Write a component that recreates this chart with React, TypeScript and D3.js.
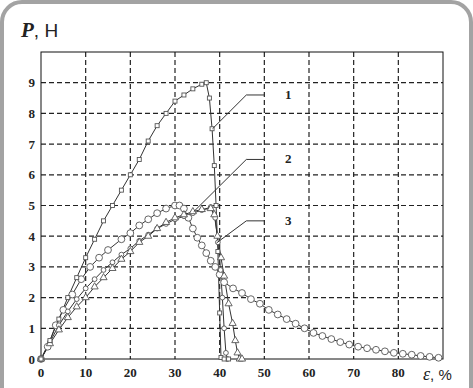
import React from 'react';
import * as d3 from 'd3';

// strain, %
const eps1 = [0, 2, 4, 6, 8, 10, 12, 14, 16, 18, 20, 22, 24, 26, 28, 30, 32, 34, 36, 37, 37.7, 38.3, 38.8, 39.2, 39.6, 40, 40.3, 41, 42];
// force, N
const force1 = [0, 0.6, 1.3, 2, 2.65, 3.3, 3.9, 4.5, 5.0, 5.5, 6.0, 6.5, 7.1, 7.6, 8.0, 8.4, 8.6, 8.8, 8.95, 9.0, 8.5, 7.5, 6.3, 5.0, 3.5, 1.5, 0.05, 0, 0];

const eps2 = [0, 2, 4, 6, 8, 10, 12, 14, 16, 18, 20, 22, 24, 26, 28, 30, 32, 34, 36, 38, 38.8, 39.5, 40.3, 41, 42, 42.9, 43.5, 44, 44.5, 45];
const force2 = [0, 0.5, 0.95, 1.35, 1.7, 2.0, 2.35, 2.65, 2.95, 3.25, 3.5, 3.8, 4.0, 4.25, 4.45, 4.6, 4.7, 4.8, 4.87, 4.9, 4.7, 4.0, 3.3, 2.7, 1.8, 1.16, 0.6, 0.2, 0, 0];

const eps3 = [0, 1.5, 3.3, 5, 7, 9, 11, 13, 15, 18, 20, 22, 24, 26, 28, 30, 31, 32, 33, 34, 35, 36, 37, 38, 39, 40, 41, 43, 45, 47, 49, 51, 53, 55, 57, 59, 61, 63, 65, 67, 69, 71, 73, 75, 77, 79, 81, 83, 85, 87, 89];
const force3 = [0, 0.4, 1.1, 1.6, 2.1, 2.6, 3.0, 3.3, 3.55, 3.9, 4.1, 4.35, 4.55, 4.75, 4.9, 5.0, 5.0, 4.9, 4.6, 4.25, 3.95, 3.7, 3.45, 3.2, 3.0, 2.75, 2.5, 2.3, 2.15, 1.95, 1.8, 1.6, 1.45, 1.3, 1.15, 1.0, 0.85, 0.75, 0.65, 0.55, 0.47, 0.4, 0.35, 0.3, 0.25, 0.2, 0.17, 0.14, 0.1, 0.07, 0.04];

const eps4 = [0, 2, 4, 6, 8, 10, 12, 14, 16, 18, 20, 22, 24, 26, 28, 30, 32, 34, 36, 38, 39, 39.6, 40.2, 40.6, 41, 41.4, 41.7];
const force4 = [0, 0.55, 1.1, 1.55, 1.95, 2.3, 2.6, 2.9, 3.15, 3.4, 3.6, 3.85, 4.05, 4.25, 4.4, 4.55, 4.65, 4.75, 4.85, 4.95, 4.6, 3.8, 2.9, 2.0, 1.0, 0.2, 0];

const xTicks = [0, 10, 20, 30, 40, 50, 60, 70, 80];
const yTicks = [0, 1, 2, 3, 4, 5, 6, 7, 8, 9];

// leader labels: [label, eps at line end, force at line end, force at label]
const labels = [
  { text: '1', eps: 38.4, p: 7.5, at: 8.6 },
  { text: '2', eps: 34.2, p: 4.8, at: 6.5 },
  { text: '3', eps: 39.3, p: 3.78, at: 4.5 },
];

const W = 473;
const H = 388;
const margin = { left: 41, right: 30, top: 52, bottom: 29 };

const App = () => {
  const x = d3.scaleLinear().domain([0, 90]).range([margin.left, W - margin.right]);
  const y = d3.scaleLinear().domain([0, 10]).range([H - margin.bottom, margin.top]);

  const line = d3.line<[number, number]>()
    .x(d => x(d[0]))
    .y(d => y(d[1]));

  const zip = (a: number[], b: number[]) => a.map((v, i) => [v, b[i]] as [number, number]);
  const s1 = zip(eps1, force1);
  const s2 = zip(eps2, force2);
  const s3 = zip(eps3, force3);
  const s4 = zip(eps4, force4);

  const lineColor = '#333';
  const mk = '#555';
  const tri = d3.symbol().type(d3.symbolTriangle).size(22)();

  return (
    <svg width={W} height={H} style={{ position: 'absolute', left: 0, top: 0, display: 'block' }}>
      <rect x={2} y={2} width={W - 4} height={H + 30} rx={20} fill='#fff' stroke='#a3a3a3' strokeWidth={4} />

      {/* grid */}
      {xTicks.filter(t => t > 0).map(t => (
        <line key={'gx' + t} x1={x(t)} x2={x(t)} y1={y(10)} y2={y(0)} stroke='#222' strokeWidth={1.2} strokeDasharray='5,3' />
      ))}
      {yTicks.filter(t => t > 0).map(t => (
        <line key={'gy' + t} x1={x(0)} x2={x(90)} y1={y(t)} y2={y(t)} stroke='#222' strokeWidth={1.2} strokeDasharray='5,3' />
      ))}
      <rect x={x(0)} y={y(10)} width={x(90) - x(0)} height={y(0) - y(10)} fill='none' stroke='#111' strokeWidth={1} />

      {/* ticks */}
      {yTicks.map(t => (
        <text key={'ty' + t} x={35} y={y(t)} dy='0.35em' textAnchor='end' fontFamily='Liberation Serif, serif' fontSize={13} fontWeight='bold' fill='#222'>{t}</text>
      ))}
      {xTicks.map(t => (
        <text key={'tx' + t} x={x(t)} y={377} textAnchor='middle' fontFamily='Liberation Serif, serif' fontSize={13} fontWeight='bold' fill='#222'>{t}</text>
      ))}

      {/* curves */}
      <path d={line(s3) || ''} fill='none' stroke={lineColor} strokeWidth={1} />
      <path d={line(s2) || ''} fill='none' stroke={lineColor} strokeWidth={1} />
      <path d={line(s4) || ''} fill='none' stroke={lineColor} strokeWidth={1} />
      <path d={line(s1) || ''} fill='none' stroke={lineColor} strokeWidth={1} />

      {s3.map((d, i) => (
        <circle key={'c3' + i} cx={x(d[0])} cy={y(d[1])} r={3.4} fill='#fff' stroke={mk} strokeWidth={0.9} />
      ))}
      {s4.map((d, i) => (
        <circle key={'c4' + i} cx={x(d[0])} cy={y(d[1])} r={2.4} fill='#fff' stroke={mk} strokeWidth={0.9} />
      ))}
      {s2.map((d, i) => (
        <path key={'t2' + i} d={tri || ''} transform={`translate(${x(d[0])},${y(d[1])})`} fill='#fff' stroke={mk} strokeWidth={0.9} />
      ))}
      {s1.map((d, i) => (
        <rect key={'q1' + i} x={x(d[0]) - 2} y={y(d[1]) - 2} width={4} height={4} fill='#fff' stroke={mk} strokeWidth={0.9} />
      ))}

      {/* leaders */}
      {labels.map(l => {
        const yy = y(l.at);
        const xEnd = x(50);
        const xKnee = xEnd - 18;
        return (
          <g key={'l' + l.text}>
            <polyline points={`${x(l.eps)},${y(l.p)} ${xKnee},${yy} ${xEnd},${yy}`} fill='none' stroke='#333' strokeWidth={1} />
            <text x={285} y={yy + 4} fontFamily='Liberation Serif, serif' fontSize={13} fontWeight='bold' fill='#222'>{l.text}</text>
          </g>
        );
      })}

      {/* axis titles */}
      <text x={21} y={37} fontFamily='Liberation Sans, sans-serif' fontSize={19} fill='#222'>
        <tspan fontFamily='Liberation Serif, serif' fontStyle='italic' fontWeight='bold' fontSize={21}>P</tspan>
        <tspan>, Н</tspan>
      </text>
      <text x={423} y={380} fontFamily='Liberation Sans, sans-serif' fontSize={15} fill='#222'>
        <tspan fontFamily='Liberation Serif, serif' fontStyle='italic' fontSize={18}>ε</tspan>
        <tspan>, %</tspan>
      </text>
    </svg>
  );
};

export default App;
